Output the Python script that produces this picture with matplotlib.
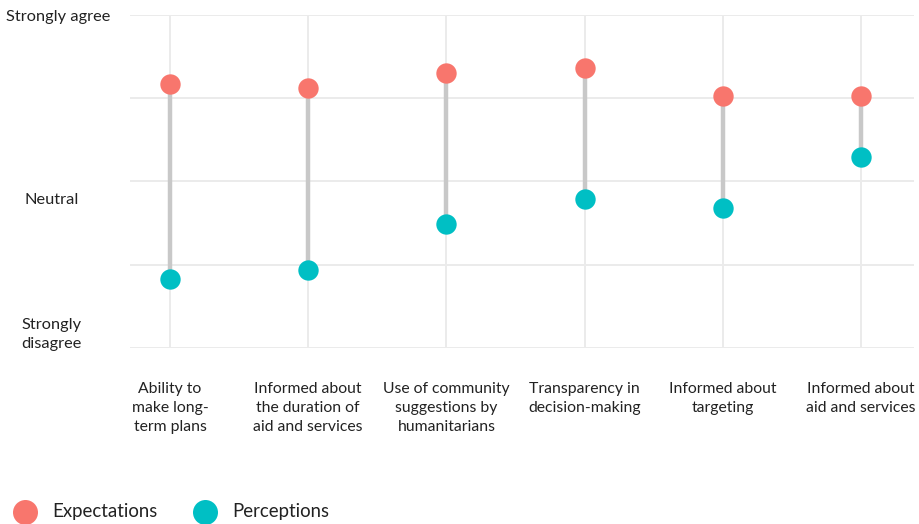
import matplotlib.pyplot as plt
import numpy as np

plt.rcParams['font.family'] = ['Lato', 'DejaVu Sans']

categories = [
    'Ability to\nmake long-\nterm plans',
    'Informed about\nthe duration of\naid and services',
    'Use of community\nsuggestions by\nhumanitarians',
    'Transparency in\ndecision-making',
    'Informed about\ntargeting',
    'Informed about\naid and services',
]
# 1 = strongly disagree, 3 = neutral, 5 = strongly agree
expectations = [4.17, 4.12, 4.30, 4.36, 4.03, 4.03]
perceptions = [1.83, 1.94, 2.49, 2.79, 2.68, 3.29]

scale_labels = ['Strongly agree', 'Neutral', 'Strongly\ndisagree']
scale_pos = [4.98, 2.78, 1.16]
scale_x = [-0.81, -0.86, -0.86]

c_exp = '#F8766D'
c_per = '#00BFC4'
txt = '#222222'

fig = plt.figure(figsize=(9.2, 5.24), dpi=100)
ax = fig.add_axes([0.1413, 0.3359, 0.852, 0.6355])

x = np.arange(len(categories))

# connecting segments
ax.vlines(x, perceptions, expectations, color='#c8c8c8', lw=3.2, zorder=2)
ax.scatter(x, expectations, s=215, color=c_exp, zorder=3, linewidths=0)
ax.scatter(x, perceptions, s=215, color=c_per, zorder=3, linewidths=0)

ax.set_xlim(-0.29, 5.383)
ax.set_ylim(1, 5)
ax.set_yticks([1, 2, 3, 4, 5])
ax.set_yticklabels([])
ax.set_xticks(x)
ax.set_xticklabels(categories, fontsize=11.3, color=txt, linespacing=1.45, va='top')
ax.tick_params(length=0)
ax.tick_params(axis='x', pad=24.5)
ax.grid(True, color='#ebebeb', lw=1.4, zorder=0)
ax.set_axisbelow(True)
for s in ax.spines.values():
    s.set_visible(False)

for lab, yp, xp in zip(scale_labels, scale_pos, scale_x):
    ax.text(xp, yp, lab, ha='center', va='center', fontsize=11.8, color=txt,
            linespacing=1.45, clip_on=False)

# legend
lx = [25 / 920, 205 / 920]
ly = 1 - 512 / 524
for xx, col, name in zip(lx, [c_exp, c_per], ['Expectations', 'Perceptions']):
    fig.add_artist(plt.Line2D([xx], [ly], marker='o', markersize=18, color=col,
                              markeredgewidth=0, transform=fig.transFigure))
    fig.text(xx + 27 / 920, ly, name, ha='left', va='center', fontsize=13.4, color=txt)

fig.savefig('out.png', dpi=100)
